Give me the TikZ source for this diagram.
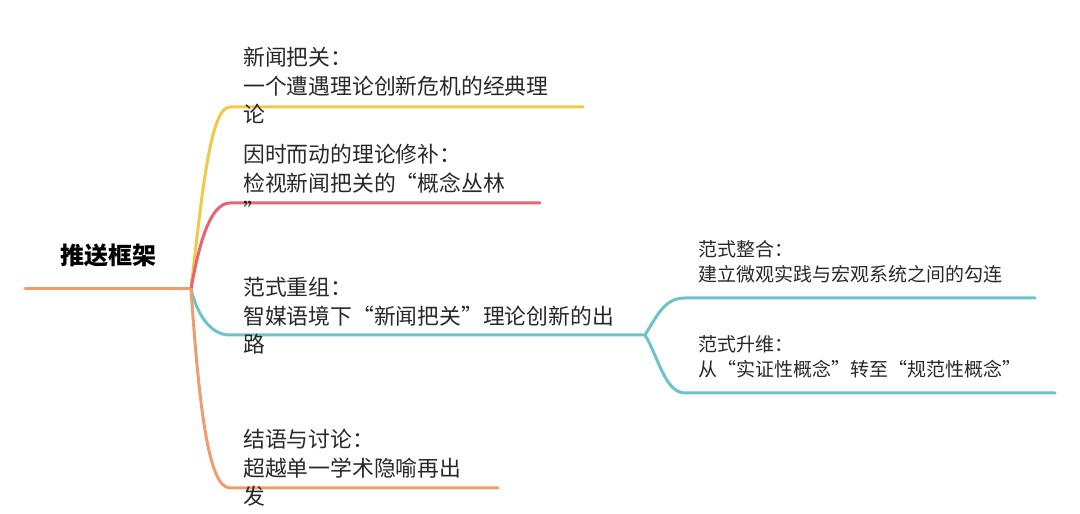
\documentclass[tikz,border=0pt]{standalone}
\usepackage{fontspec}
\newfontfamily\cjk{Noto Sans CJK SC}
\definecolor{brYellow}{RGB}{242,200,72}
\definecolor{brRed}{RGB}{232,100,112}
\definecolor{brTeal}{RGB}{108,196,198}
\definecolor{brOrange}{RGB}{238,158,108}
\definecolor{txtGray}{RGB}{40,40,40}

\begin{document}
\begin{tikzpicture}[x=1pt,y=1pt,
	branch/.style={line width=3pt, line cap=round},
	topic/.style={anchor=base west, align=left, inner sep=0pt, text=txtGray, font=\cjk\fontsize{21.8}{28.5}\selectfont},
	subtopic/.style={anchor=base west, align=left, inner sep=0pt, text=txtGray, font=\cjk\fontsize{19}{25}\selectfont}]
	\useasboundingbox (0,0) rectangle (1080,514);
	\node (root) at (108,249) [anchor=base, inner sep=0pt, font=\cjk\bfseries\fontsize{24}{28}\selectfont] {推送框架};
	\coordinate (rootStart) at (25,225);
	\coordinate (hub) at (191,225);
	\coordinate (subHub) at (645,179);
	% branch ends
	\coordinate (yelA) at (230,407); \coordinate (yelB) at (583,407);
	\coordinate (redA) at (230,311); \coordinate (redB) at (540,311);
	\coordinate (tealA) at (230,179);
	\coordinate (oraA) at (230,26);  \coordinate (oraB) at (498,26);
	\coordinate (subA) at (685,216); \coordinate (subB) at (1035,216);
	\coordinate (subC) at (685,121); \coordinate (subD) at (1055,121);
	\draw[branch,brOrange] (rootStart) -- (hub);
	\draw[branch,brYellow] (hub) .. controls (203,330) and (211,407) .. (yelA) -- (yelB);
	\draw[branch,brRed] (hub) .. controls (199,270) and (210,311) .. (redA) -- (redB);
	\draw[branch,brTeal] (hub) .. controls (197,200) and (210,179) .. (tealA) -- (subHub);
	\draw[branch,brOrange] (hub) .. controls (199,110) and (208,26) .. (oraA) -- (oraB);
	\draw[branch,brTeal] (subHub) .. controls (658,200) and (665,216) .. (subA) -- (subB);
	\draw[branch,brTeal] (subHub) .. controls (658,158) and (665,121) .. (subC) -- (subD);
	% topics (base = last line)
	\node (yelT) at (243,391) [topic] {新闻把关：\\一个遭遇理论创新危机的经典理\\论};
	\node (redT) at (243,294) [topic] {因时而动的理论修补：\\检视新闻把关的“概念丛林\\”};
	\node (tealT) at (243,161) [topic] {范式重组：\\智媒语境下“新闻把关”理论创新的出\\路};
	\node (oraT) at (243,9) [topic] {结语与讨论：\\超越单一学术隐喻再出\\发};
	\node (subT1) at (698,232) [subtopic] {范式整合：\\建立微观实践与宏观系统之间的勾连};
	\node (subT2) at (698,137) [subtopic] {范式升维：\\从“实证性概念”转至“规范性概念”};
\end{tikzpicture}
\end{document}
